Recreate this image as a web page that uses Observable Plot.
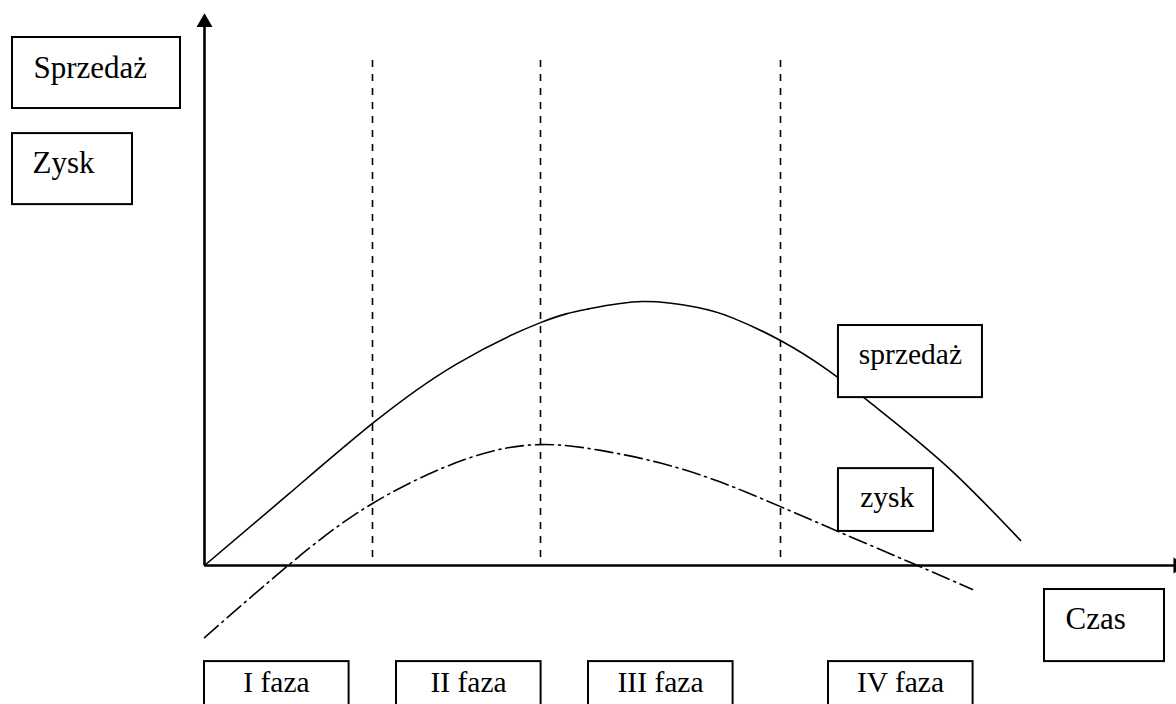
<!DOCTYPE html>
<html>
<head>
<meta charset="utf-8">
<script src="https://cdn.jsdelivr.net/npm/d3@7"></script>
<script src="https://cdn.jsdelivr.net/npm/@observablehq/plot@0.6"></script>
<style>
  html, body { margin: 0; padding: 0; background: #fff; overflow: hidden; }
  #chart svg { display: block; }
</style>
</head>
<body>
<div id="chart"></div>
<script>
// ---- data (time units along x, value units along y) ----
const salesT = [0, 7, 14, 21, 28, 32, 36.5, 41, 44, 48, 52, 56, 62, 68];
const salesV = [0, 27, 53.8, 76.3, 92, 97.2, 100, 97.8, 93.8, 85.2, 73.8, 59.8, 37, 9.5];
const profitT = [0, 7.17, 14, 21.9, 28, 33, 38, 43, 48, 53, 58.8, 64];
const profitV = [-27.3, 0.76, 23.5, 40.5, 45.8, 43.6, 38.8, 31.6, 22.3, 12.5, 1.2, -9.1];
const phaseBounds = [14, 28, 48];
const phaseNames = ["I faza", "II faza", "III faza", "IV faza"];
const phaseStart = [0, 16, 32, 52];
const yTitles = ["Sprzedaż", "Zysk"];
const seriesNames = ["sprzedaż", "zysk"];
const xTitle = "Czas";

const sales = salesT.map((t, i) => ({t, v: salesV[i]}));
const profit = profitT.map((t, i) => ({t, v: profitV[i]}));

const FONT = "'Liberation Serif', 'Times New Roman', serif";

// annotation boxes (layout, in chart units)
const boxes = [
  {x1: -16, x2: -2, y1: 173.1, y2: 200},        // Sprzedaż
  {x1: -16, x2: -6, y1: 136.7, y2: 163.6},      // Zysk
  {x1: 52.83, x2: 64.83, y1: 63.6, y2: 90.9},   // sprzedaż
  {x1: 52.83, x2: 60.75, y1: 12.9, y2: 36.7},   // zysk
  {x1: 70, x2: 80, y1: -36.4, y2: -9.1},        // Czas
  ...phaseStart.map(s => ({x1: s, x2: s + 12.05, y1: -60, y2: -36.4}))
];

const chart = Plot.plot({
  width: 1176,
  height: 704,
  margin: 0,
  style: {background: "#fff"},
  x: {domain: [-17, 81], axis: null},
  y: {domain: [-52.65, 214.015], axis: null},
  marks: [
    // phase separators
    Plot.ruleX(phaseBounds, {x: d => d, y1: 3, y2: 191.3, stroke: "#000", strokeWidth: 1.6, strokeDasharray: "7,7"}),
    // curves
    Plot.line(sales, {x: "t", y: "v", curve: "natural", stroke: "#000", strokeWidth: 1.6}),
    Plot.line(profit, {x: "t", y: "v", curve: "natural", stroke: "#000", strokeWidth: 1.6, strokeDasharray: "18,5,2,5"}),
    // axes
    Plot.ruleY([0], {x1: 0, x2: 81, stroke: "#000", strokeWidth: 2.6}),
    Plot.ruleX([0], {y1: 0, y2: 204, stroke: "#000", strokeWidth: 2.6}),
    Plot.dot([{t: 0, v: 205.7}], {x: "t", y: "v", symbol: "triangle", r: 5.94, fill: "#000", stroke: "none"}),
    Plot.dot([{t: 81.13, v: 0}], {x: "t", y: "v", symbol: "triangle", r: 5.94, rotate: 90, fill: "#000", stroke: "none"}),
    // boxes
    Plot.rect(boxes, {x1: "x1", x2: "x2", y1: "y1", y2: "y2", fill: "#fff", stroke: "#000", strokeWidth: 2}),
    // texts
    Plot.text([yTitles[0]], {x: -14.25, y: 184.5, text: d => d, textAnchor: "start", lineAnchor: "bottom", fontFamily: FONT, fontSize: 31, fill: "#000"}),
    Plot.text([yTitles[1]], {x: -14.33, y: 148.5, text: d => d, textAnchor: "start", lineAnchor: "bottom", fontFamily: FONT, fontSize: 31, fill: "#000"}),
    Plot.text([seriesNames[0]], {x: 58.83, y: 76.5, text: d => d, textAnchor: "middle", lineAnchor: "bottom", fontFamily: FONT, fontSize: 29.5, fill: "#000"}),
    Plot.text([seriesNames[1]], {x: 56.9, y: 22.0, text: d => d, textAnchor: "middle", lineAnchor: "bottom", fontFamily: FONT, fontSize: 29.5, fill: "#000"}),
    Plot.text([xTitle], {x: 71.75, y: -24.2, text: d => d, textAnchor: "start", lineAnchor: "bottom", fontFamily: FONT, fontSize: 31, fill: "#000"}),
    Plot.text(phaseNames, {x: (d, i) => phaseStart[i] + 6, y: -48.1, text: d => d, textAnchor: "middle", lineAnchor: "bottom", fontFamily: FONT, fontSize: 29.5, fill: "#000"})
  ]
});
document.getElementById("chart").appendChild(chart);
</script>
</body>
</html>
